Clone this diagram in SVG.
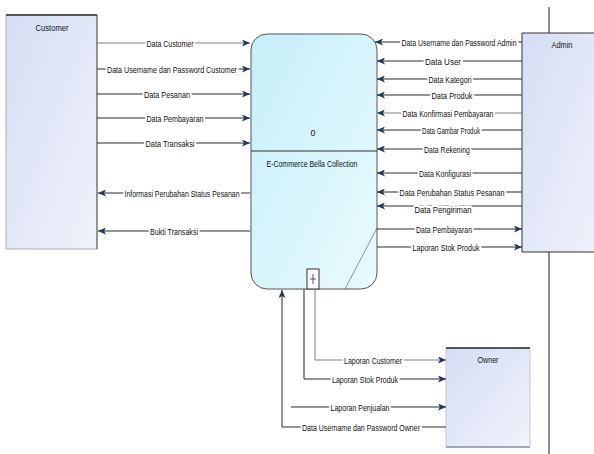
<svg xmlns="http://www.w3.org/2000/svg" width="594" height="454" viewBox="0 0 594 454">
<defs>
<linearGradient id="gEnt" x1="0" y1="0" x2="1" y2="1">
<stop offset="0" stop-color="#d6def5"/>
<stop offset="1" stop-color="#f0f2fb"/>
</linearGradient>
<linearGradient id="gProc" x1="0" y1="0" x2="1" y2="1">
<stop offset="0" stop-color="#c6effa"/>
<stop offset="1" stop-color="#e9fbfd"/>
</linearGradient>
<marker id="arr" markerWidth="9" markerHeight="7" refX="8" refY="3.5" orient="auto" markerUnits="userSpaceOnUse">
<path d="M0,0 L8,3.5 L0,7 L2,3.5 z" fill="#1d3a5e"/>
</marker>
<style>
text{font-family:"Liberation Sans",Arial,sans-serif;font-size:9.5px;fill:#111;}
.lbl{text-anchor:middle;stroke:#fff;stroke-width:5px;paint-order:stroke;stroke-linejoin:round;}
.sm{font-size:8.5px;}
.f{fill:none;stroke:#2a2a2a;stroke-width:1;marker-end:url(#arr);}
.fl{fill:none;stroke:#808080;stroke-width:1;marker-end:url(#arr);}
.t{text-anchor:middle;}
</style>
</defs>
<rect width="594" height="454" fill="#fff"/>

<g id="customer">
<rect x="6" y="15" width="91" height="234" fill="url(#gEnt)"/>
<path d="M6,15 L6,249 L97,249" fill="none" stroke="#a8adb8" stroke-width="1"/>
<line x1="6" y1="15" x2="97" y2="15" stroke="#222" stroke-width="1.6"/>
<line x1="97" y1="15" x2="97" y2="249" stroke="#333" stroke-width="1"/>
<text class="t" x="52" y="31" textLength="33" lengthAdjust="spacingAndGlyphs">Customer</text>
</g>

<g id="admin">
<rect x="522" y="33" width="80" height="219" fill="url(#gEnt)"/>
<path d="M600,33 L522,33 L522,252 L600,252" fill="none" stroke="#333" stroke-width="1"/>
<line x1="549" y1="7" x2="549" y2="33" stroke="#222" stroke-width="1"/>
<line x1="549" y1="252" x2="549" y2="454" stroke="#222" stroke-width="1"/>
<text class="t" x="562" y="48" textLength="21" lengthAdjust="spacingAndGlyphs">Admin</text>
</g>

<g id="owner">
<rect x="446" y="348" width="84" height="99" fill="url(#gEnt)"/>
<path d="M446,348 L446,447 M530,348 L530,447" fill="none" stroke="#c5cad6" stroke-width="1"/>
<line x1="446" y1="447" x2="530" y2="447" stroke="#a3a9b3" stroke-width="2"/>
<line x1="446" y1="348" x2="530" y2="348" stroke="#222" stroke-width="1.6"/>
<text class="t" x="488" y="363" textLength="21" lengthAdjust="spacingAndGlyphs">Owner</text>
</g>

<g id="process">
<rect x="251" y="34" width="126" height="255" rx="16" ry="16" fill="url(#gProc)" stroke="#555" stroke-width="1"/>
<line x1="251" y1="151" x2="377" y2="151" stroke="#333" stroke-width="1"/>
<line x1="377" y1="228" x2="345" y2="289" stroke="#777" stroke-width="0.8"/>
<rect x="307" y="269" width="12" height="20" fill="#fff" stroke="#333" stroke-width="1"/>
<line x1="313" y1="274" x2="313" y2="284" stroke="#333" stroke-width="0.8"/>
<line x1="310" y1="279" x2="316" y2="279" stroke="#333" stroke-width="0.8"/>
<text class="t" x="313" y="136" textLength="5" lengthAdjust="spacingAndGlyphs">0</text>
<text class="t" x="312" y="167" textLength="91" lengthAdjust="spacingAndGlyphs">E-Commerce Bella Collection</text>
</g>

<g id="connectors">
<path class="fl" d="M97,43 L250,43"/>
<path class="f" d="M97,69 L250,69"/>
<path class="f" d="M97,94 L250,94"/>
<path class="f" d="M97,118 L250,118"/>
<path class="f" d="M97,143 L250,143"/>
<path class="f" d="M250,193 L98,193"/>
<path class="f" d="M250,231 L98,231"/>

<path class="f" d="M522,42 L375,42"/>
<path class="f" d="M522,61 L377,61"/>
<path class="f" d="M522,79 L377,79"/>
<path class="f" d="M522,95 L377,95"/>
<path class="fl" d="M522,113 L377,113"/>
<path class="f" d="M522,130 L377,130"/>
<path class="f" d="M522,149 L377,149"/>
<path class="f" d="M522,173 L377,173"/>
<path class="f" d="M522,192 L377,192"/>
<path class="f" d="M522,206 L377,206"/>
<path class="f" d="M377,229 L522,229"/>
<path class="f" d="M377,247 L522,247"/>

<path class="fl" d="M315,289 L315,360 L446,360"/>
<path class="f" d="M304,289 L304,379 L446,379"/>
<path class="f" d="M291,407 L446,407"/>
<path class="f" d="M446,427 L282,427 L282,290"/>

<text class="lbl" x="170" y="46.5" textLength="47" lengthAdjust="spacingAndGlyphs">Data Customer</text>
<text class="lbl" x="172" y="72.5" textLength="130" lengthAdjust="spacingAndGlyphs">Data Username dan Password Customer</text>
<text class="lbl" x="167" y="97.5" textLength="46" lengthAdjust="spacingAndGlyphs">Data Pesanan</text>
<text class="lbl" x="175" y="121.5" textLength="57" lengthAdjust="spacingAndGlyphs">Data Pembayaran</text>
<text class="lbl" x="170" y="146.5" textLength="49" lengthAdjust="spacingAndGlyphs">Data Transaksi</text>
<text class="lbl" x="182" y="196.5" textLength="115" lengthAdjust="spacingAndGlyphs">Informasi Perubahan Status Pesanan</text>
<text class="lbl" x="174" y="234.5" textLength="48" lengthAdjust="spacingAndGlyphs">Bukti Transaksi</text>

<text class="lbl sm" x="459" y="45.5" textLength="115" lengthAdjust="spacingAndGlyphs">Data Username dan Password Admin</text>
<text class="lbl" x="443" y="64.5" textLength="36" lengthAdjust="spacingAndGlyphs">Data User</text>
<text class="lbl" x="450" y="82.5" textLength="43" lengthAdjust="spacingAndGlyphs">Data Kategori</text>
<text class="lbl" x="452" y="99" textLength="41" lengthAdjust="spacingAndGlyphs">Data Produk</text>
<text class="lbl" x="448" y="116.5" textLength="91" lengthAdjust="spacingAndGlyphs">Data Konfirmasi Pembayaran</text>
<text class="lbl" x="451" y="133.5" textLength="58" lengthAdjust="spacingAndGlyphs">Data Gambar Produk</text>
<text class="lbl" x="447" y="152.5" textLength="46" lengthAdjust="spacingAndGlyphs">Data Rekening</text>
<text class="lbl" x="445" y="176.5" textLength="52" lengthAdjust="spacingAndGlyphs">Data Konfigurasi</text>
<text class="lbl" x="452" y="195.5" textLength="105" lengthAdjust="spacingAndGlyphs">Data Perubahan Status Pesanan</text>
<text class="lbl" x="443" y="212.5" textLength="57" lengthAdjust="spacingAndGlyphs">Data Pengiriman</text>
<text class="lbl" x="444" y="232.5" textLength="56" lengthAdjust="spacingAndGlyphs">Data Pembayaran</text>
<text class="lbl" x="446" y="250.5" textLength="67" lengthAdjust="spacingAndGlyphs">Laporan Stok Produk</text>

<text class="lbl" x="373" y="363.5" textLength="58" lengthAdjust="spacingAndGlyphs">Laporan Customer</text>
<text class="lbl" x="365" y="382.5" textLength="66" lengthAdjust="spacingAndGlyphs">Laporan Stok Produk</text>
<text class="lbl" x="360" y="410.5" textLength="59" lengthAdjust="spacingAndGlyphs">Laporan Penjualan</text>
<text class="lbl" x="361" y="430.5" textLength="118" lengthAdjust="spacingAndGlyphs">Data Username dan Password Owner</text>
</g>
</svg>
